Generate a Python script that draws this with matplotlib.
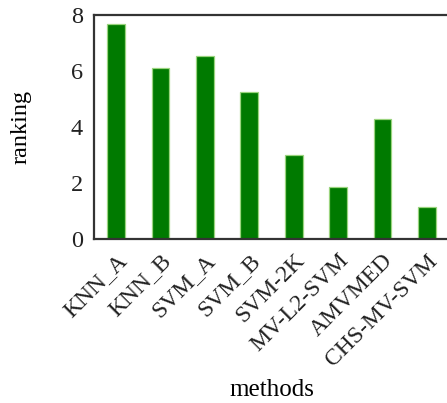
import matplotlib
matplotlib.use('Agg')
import matplotlib.pyplot as plt

methods = ['KNN_A', 'KNN_B', 'SVM_A', 'SVM_B', 'SVM-2K', 'MV-L2-SVM', 'AMVMED', 'CHS-MV-SVM']
ranking = [7.67, 6.11, 6.54, 5.26, 2.99, 1.85, 4.27, 1.13]

plt.rcParams['font.family'] = ['Liberation Serif', 'DejaVu Serif']

fig = plt.figure(figsize=(4.47, 4.03), dpi=100)
ax = fig.add_axes([0.2103, 0.4069, 0.794, 0.5559])

pos = list(range(len(methods)))
ax.bar(pos, ranking, width=0.4, color='#007a00', edgecolor='#9ad47e', linewidth=0.9)

ax.set_xlim(-0.5, 7.5)
ax.set_ylim(0, 8)
ax.set_yticks([0, 2, 4, 6, 8])
ax.set_xticks(pos)
ax.set_xticklabels(methods, rotation=45, ha='right', rotation_mode='anchor')
ax.tick_params(length=0, labelsize=17.5, colors='#222222', pad=8)
ax.tick_params(axis='x', labelsize=17, pad=8)

for s in ax.spines.values():
    s.set_linewidth(1.6)
    s.set_color('#333333')

ax.set_ylabel('ranking', fontsize=17.5)
ax.set_xlabel('methods', fontsize=18)
ax.yaxis.set_label_coords(-0.175, 0.5)
ax.xaxis.set_label_coords(0.5, -0.625)

fig.savefig('out.png', dpi=100)
